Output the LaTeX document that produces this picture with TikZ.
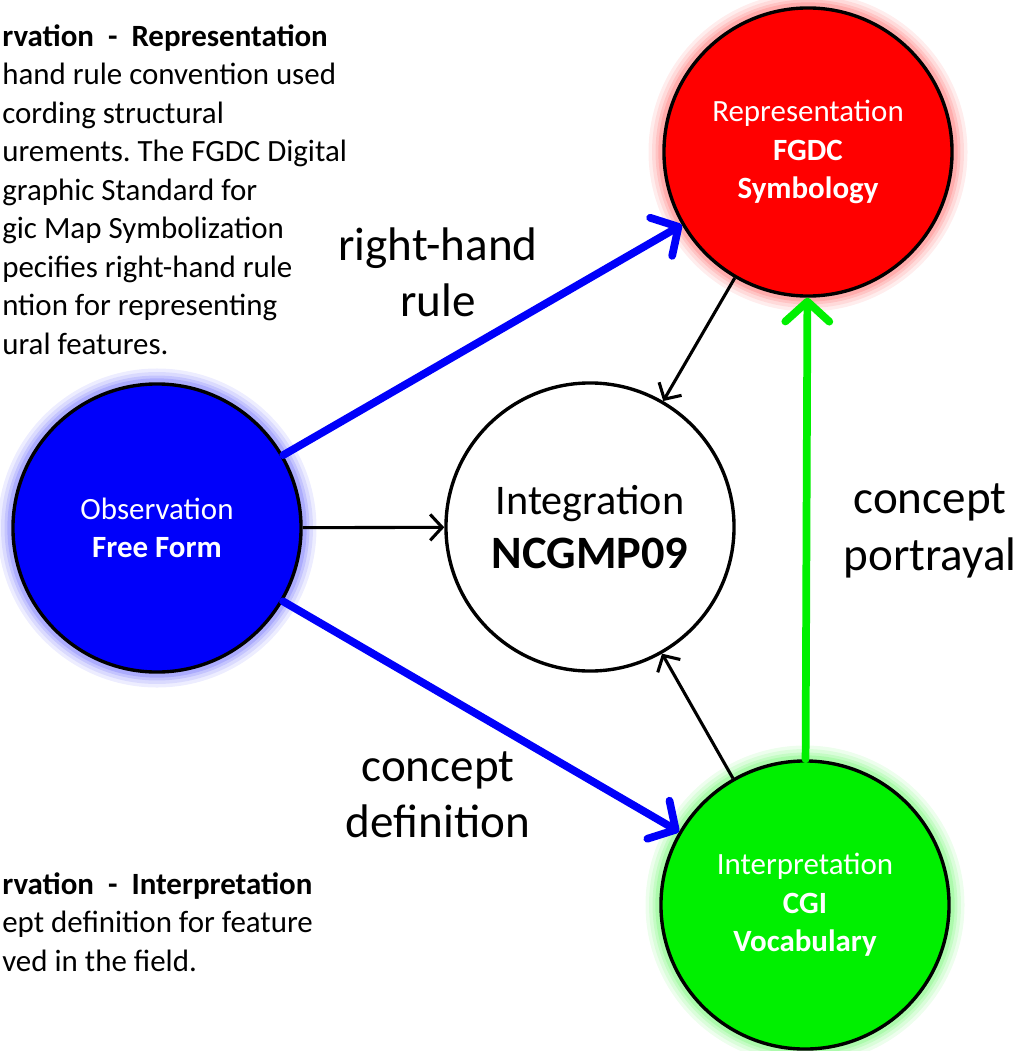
\documentclass[tikz,border=0pt]{standalone}
\usepackage{fontspec}
\setmainfont{Carlito}
\frenchspacing
\usetikzlibrary{arrows.meta}
\definecolor{obsblue}{RGB}{0,0,250}
\definecolor{repred}{RGB}{255,0,0}
\definecolor{cgigreen}{RGB}{0,240,0}

\begin{document}
\begin{tikzpicture}[x=0.025cm, y=-0.025cm,
			every node/.style = {align=center},
			stage/.style = {shape=circle, draw, line width=2.4pt, minimum size=7.2cm, inner sep=0pt,
				text=white, font=\fontsize{22}{27.4}\selectfont},
			glow/.style = {preaction={draw=#1, line width=22pt, opacity=0.07},
				preaction={draw=#1, line width=17pt, opacity=0.08},
				preaction={draw=#1, line width=12pt, opacity=0.1},
				preaction={draw=#1, line width=8pt, opacity=0.12}},
			thick arrow/.style = {line width=5.5pt, line cap=round, -{Straight Barb[length=5mm, width=11mm, round]}},
			thin arrow/.style = {line width=2.2pt, -{Straight Barb[length=3mm, width=6.5mm]}},
			edgelabel/.style = {font=\fontsize{33.5}{40}\selectfont},
			note/.style = {anchor=north west, align=left, inner sep=0pt, font=\fontsize{22}{27.4}\selectfont}]

			\useasboundingbox (0,0) rectangle (1023,1051);

			% the four stages
			\node[stage, glow=obsblue, fill=obsblue] (obs) at (157,528) {Observation\\\textbf{Free Form}};
			\node[stage, fill=white, text=black, font=\fontsize{30}{39}\selectfont] (int) at (590,527)
				{Integration\\{\fontsize{33}{39}\selectfont\bfseries NCGMP09}};
			\node[stage, glow=repred, fill=repred] (rep) at (808,152) {Representation\\\textbf{FGDC}\\\textbf{Symbology}};
			\node[stage, glow=cgigreen, fill=cgigreen] (cgi) at (805,905) {Interpretation\\\textbf{CGI}\\\textbf{Vocabulary}};

			% connectors
			\draw[thick arrow, obsblue] (obs) -- (rep);
			\draw[thick arrow, obsblue] (obs) -- (cgi);
			\draw[thick arrow, cgigreen] (cgi) -- (rep);
			\draw[thin arrow] (obs) -- (int);
			\draw[thin arrow] (rep) -- (int);
			\draw[thin arrow] (cgi) -- (int);

			\node[edgelabel] (rhr) at (438,272) {right-hand\\rule};
			\node[edgelabel] (cpt) at (930,531) {concept\\portrayal};
			\node[edgelabel] (cdf) at (438,795) {concept\\definition};

			% notes, cut at the left edge
			\node[note] (repnote) at (2,24) {\textbf{rvation\ \ -\ \ Representation}\\
				hand rule convention used\\
				cording structural\\
				urements. The FGDC Digital\\
				graphic Standard for\\
				gic Map Symbolization\\
				pecifies right-hand rule\\
				ntion for representing\\
				ural features.};
			\node[note] (cginote) at (2,872) {\textbf{rvation\ \ -\ \ Interpretation}\\
				ept definition for feature\\
				ved in the field.};
			\end{tikzpicture}
\end{document}
